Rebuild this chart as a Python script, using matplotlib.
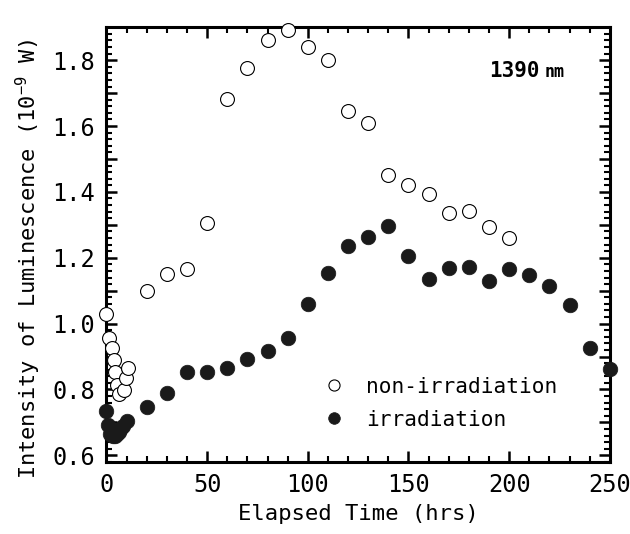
import matplotlib
matplotlib.use("Agg")
import matplotlib.pyplot as plt
from matplotlib.ticker import MultipleLocator, FuncFormatter

plt.rcParams['font.family'] = ['DejaVu Sans Mono']
plt.rcParams['mathtext.fontset'] = 'custom'
plt.rcParams['mathtext.rm'] = 'DejaVu Sans Mono'
plt.rcParams['mathtext.default'] = 'rm'

# non-irradiation (open circles)
non_irr_t = [0, 1.5, 2.5, 3.5, 4, 5, 6, 8.5, 9.5, 10.5,
             20, 30, 40, 50, 60, 70, 80, 90, 100, 110, 120, 130,
             140, 150, 160, 170, 180, 190, 200]
non_irr_v = [1.03, 0.955, 0.925, 0.89, 0.854, 0.815, 0.785, 0.798, 0.834, 0.866,
             1.10, 1.152, 1.165, 1.304, 1.681, 1.775, 1.861, 1.893, 1.840, 1.800, 1.646, 1.61,
             1.45, 1.42, 1.393, 1.335, 1.342, 1.294, 1.259]

# irradiation (filled circles)
irr_t = [0, 1, 2, 3, 4, 5, 6, 7, 8, 10,
         20, 30, 40, 50, 60, 70, 80, 90, 100, 110, 120, 130,
         140, 150, 160, 170, 180, 190, 200, 210, 220, 230, 240, 250]
irr_v = [0.735, 0.692, 0.665, 0.66, 0.66, 0.665, 0.672, 0.682, 0.69, 0.703,
         0.746, 0.788, 0.852, 0.852, 0.864, 0.891, 0.918, 0.957, 1.061, 1.154, 1.236, 1.264,
         1.297, 1.205, 1.134, 1.170, 1.171, 1.130, 1.165, 1.147, 1.114, 1.055, 0.925, 0.861]

fig = plt.figure(figsize=(6.3, 5.34), dpi=100)
ax = fig.add_axes([0.169, 0.135, 0.799, 0.814])

ax.plot(non_irr_t, non_irr_v, linestyle='none', marker='o', markersize=10,
        markerfacecolor='white', markeredgecolor='black', markeredgewidth=0.8,
        label='non-irradiation', zorder=3, clip_on=False)
ax.plot(irr_t, irr_v, linestyle='none', marker='o', markersize=10.5,
        markerfacecolor='#1a1a1a', markeredgecolor='#1a1a1a', markeredgewidth=0.5,
        label='irradiation', zorder=4, clip_on=False)

ax.set_xlim(0, 250)
ax.set_ylim(0.58, 1.9)

ax.xaxis.set_major_locator(MultipleLocator(50))
ax.xaxis.set_minor_locator(MultipleLocator(10))
ax.yaxis.set_major_locator(MultipleLocator(0.1))
ax.yaxis.set_minor_locator(MultipleLocator(0.02))

def yfmt(v, pos):
    k = int(round(v * 10))
    if k % 2 == 0:
        return '%.1f' % v
    return ''
ax.yaxis.set_major_formatter(FuncFormatter(yfmt))

for s in ax.spines.values():
    s.set_linewidth(2.2)

ax.tick_params(which='both', direction='in', top=True, right=True,
               labelsize=17, pad=8)
ax.tick_params(which='major', length=8, width=1.8)
ax.tick_params(which='minor', length=4.5, width=1.5)

ax.set_xlabel('Elapsed Time (hrs)', fontsize=16, labelpad=5)
ax.set_ylabel(r'Intensity of Luminescence (10$^{-9}$ W)', fontsize=15.8, labelpad=8)
ax.yaxis.set_label_coords(-0.127, 0.467)

ax.text(0.86, 0.90, '1390', transform=ax.transAxes, fontsize=15,
        fontweight='bold', ha='right', va='center')
ax.text(0.91, 0.897, 'nm', transform=ax.transAxes, fontsize=12,
        fontweight='bold', ha='right', va='center')

leg = ax.legend(loc='lower left', bbox_to_anchor=(0.41, 0.05), frameon=False,
                fontsize=15.2, handlelength=1.0, handletextpad=1.0,
                labelspacing=0.62, markerscale=0.8, borderpad=0)

fig.savefig('out.png', dpi=100)
